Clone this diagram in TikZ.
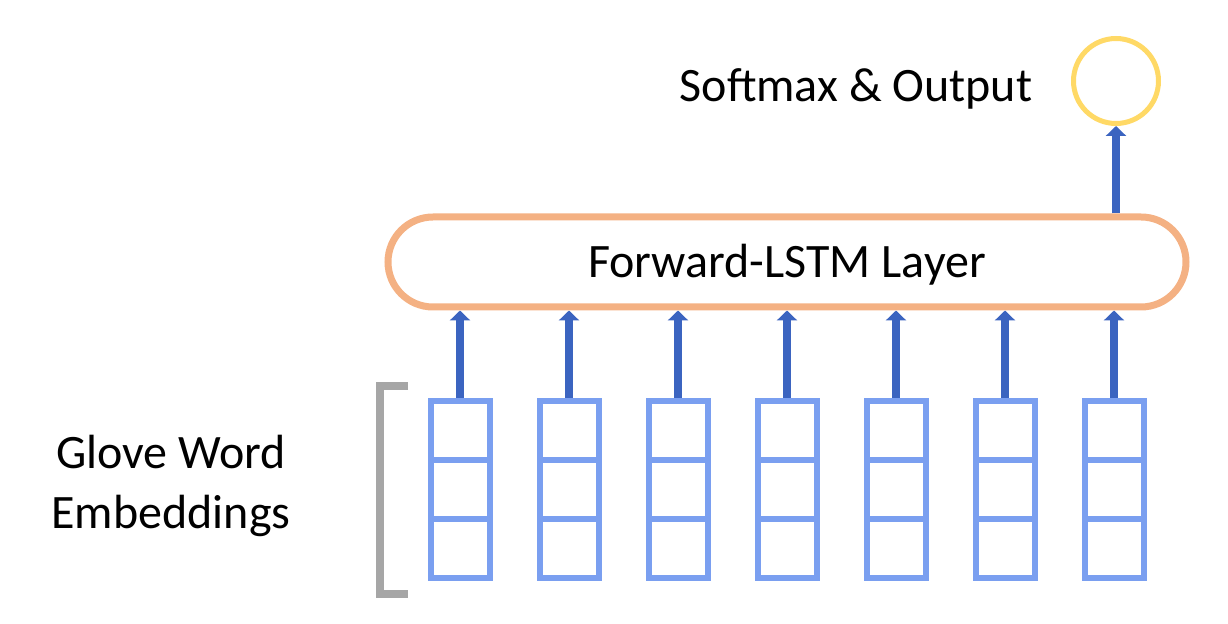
\documentclass[tikz,border=0pt]{standalone}
\usepackage{fontspec}
\setmainfont{Carlito}
\usetikzlibrary{arrows.meta}
\definecolor{cellblue}{RGB}{122,159,240}
\definecolor{arrowblue}{RGB}{59,100,192}
\definecolor{lstmorange}{RGB}{244,177,131}
\definecolor{outyellow}{RGB}{255,217,102}
\definecolor{bracketgray}{RGB}{166,166,166}
\begin{document}
\begin{tikzpicture}[x=0.5pt,y=-0.5pt]
        \tikzstyle{cell}=[rectangle,draw=cellblue,line width=3pt,minimum width=29.5pt,minimum height=29.5pt,inner sep=0pt]
        \tikzstyle{layer}=[rectangle,rounded corners=22.5pt,draw=lstmorange,line width=3.5pt,minimum width=399pt,minimum height=45pt,text depth=1pt,font=\fontsize{24}{29}\selectfont]
        \tikzstyle{output}=[circle,draw=outyellow,line width=2.5pt,minimum size=42.5pt,inner sep=0pt]
        \tikzstyle{label}=[align=center,font=\fontsize{24}{30}\selectfont]
        \tikzstyle{edge}=[draw=arrowblue,line width=4pt,-{Triangle[width=10pt,length=5pt]}]

        \useasboundingbox (0,0) rectangle (1228,624);

        \node [layer] (lstm) at (787,262) {Forward-LSTM Layer};
        \node [output] (out) at (1116,81) {};
        \node [label] (soft) at (856,89) {Softmax \& Output};
        \node [label] (glove) at (171,486) {Glove Word\\Embeddings};

        % embedding vectors
        \foreach \i in {1,...,7} {
          \foreach \j in {1,2,3} {
            \node [cell] (e\i\j) at ({460+109*(\i-1)},{430.5+59*(\j-1)}) {};
          }
          \path[edge] (e\i1.north) -- (e\i1.north |- lstm.south);
        }

        \path[edge] (lstm.north -| out.south) -- (out.south);

        % bracket
        \draw [bracketgray,line width=4pt] (408,386) -- (380,386) -- (380,594) -- (408,594);
\end{tikzpicture}
\end{document}
